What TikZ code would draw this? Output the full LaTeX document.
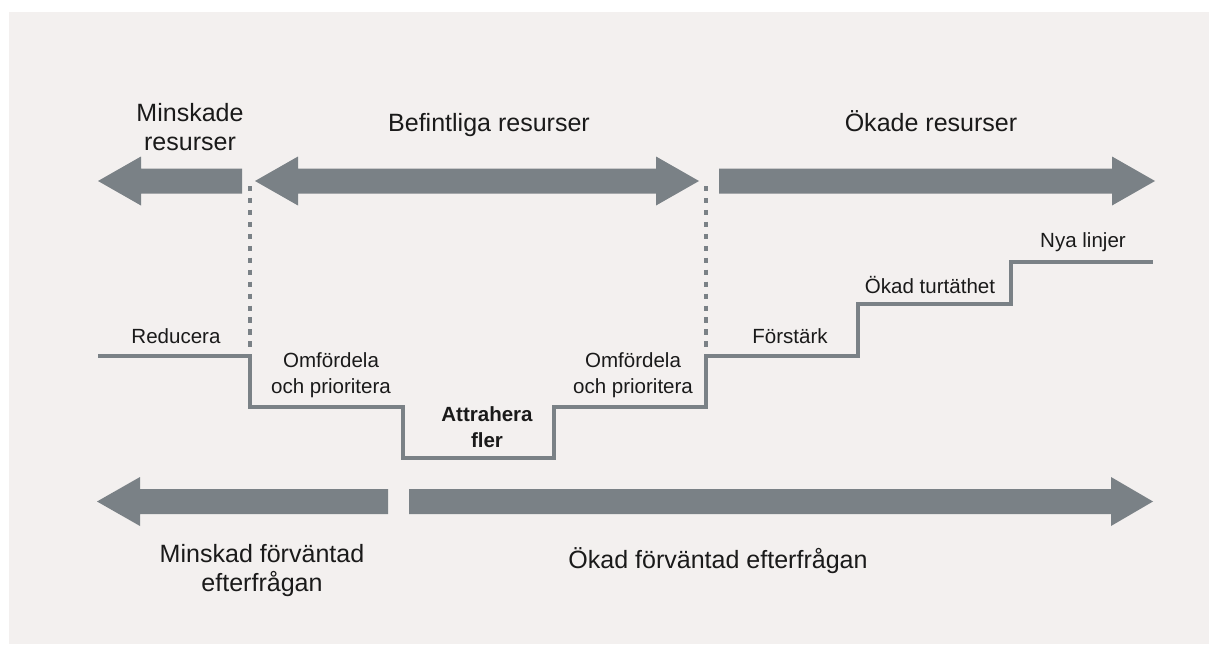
\documentclass[tikz,border=0pt]{standalone}
\usepackage{fontspec}
\setmainfont{Liberation Sans}
\usepackage{tikz}
\usetikzlibrary{calc}
\definecolor{bggray}{HTML}{F3F0EF}
\definecolor{blkgray}{HTML}{7A8186}
\definecolor{txtgray}{HTML}{1A1A1A}

\begin{document}
\begin{tikzpicture}[x=0.025cm, y=-0.025cm,
  blk/.style = {fill=blkgray},
  big/.style = {anchor=base, align=center, text=txtgray, inner sep=0pt, font=\fontsize{17.8}{20.6}\selectfont},
  small/.style = {anchor=base, align=center, text=txtgray, inner sep=0pt, font=\fontsize{14.6}{17.8}\selectfont},
  stair/.style = {draw=blkgray, line width=2.4pt},
  sep/.style = {draw=blkgray, line width=2.4pt, dash pattern=on 3.9pt off 4.6pt}]
  \useasboundingbox (0,0) rectangle (1209,644);
  \fill[white] (0,0) rectangle (1209,644);
  \fill[bggray] (9,12) rectangle (1209,644);

  %top arrows
  \coordinate (tl) at (98,181);
  \fill[blk] (tl) -- ++(43,-24.5) -- ++(0,12) -- ++(101,0) -- ++(0,25) -- ++(-101,0) -- ++(0,12) -- cycle;
  \coordinate (tm) at (255,181);
  \fill[blk] (tm) -- ++(43,-24.5) -- ++(0,12) -- ++(358,0) -- ++(0,-12) -- ++(43,24.5)
    -- ++(-43,24.5) -- ++(0,-12) -- ++(-358,0) -- ++(0,12) -- cycle;
  \coordinate (tr) at (1155,181);
  \fill[blk] (tr) -- ++(-43,-24.5) -- ++(0,12) -- ++(-393,0) -- ++(0,25) -- ++(393,0) -- ++(0,12) -- cycle;
  %annotating top arrows (base = last line)
  \node[big] (minres) at (190,150) {Minskade\\resurser};
  \node[big] (befres) at (489,132) {Befintliga resurser};
  \node[big] (okres) at (931,132) {Ökade resurser};

  %dashed separators
  \coordinate (s1) at (250,186);
  \coordinate (s1_) at (250,348);
  \coordinate (s2) at (706,186);
  \coordinate (s2_) at (706,348);
  \draw[sep] (s1) -- (s1_);
  \draw[sep] (s2) -- (s2_);

  %stairs
  \coordinate (p0) at (98,356);
  \coordinate (p1) at (250,356);
  \coordinate (p2) at (250,407);
  \coordinate (p3) at (403,407);
  \coordinate (p4) at (403,458);
  \coordinate (p5) at (554,458);
  \coordinate (p6) at (554,407);
  \coordinate (p7) at (706,407);
  \coordinate (p8) at (706,356);
  \coordinate (p9) at (858,356);
  \coordinate (p10) at (858,304);
  \coordinate (p11) at (1011,304);
  \coordinate (p12) at (1011,262);
  \coordinate (p13) at (1153,262);
  \draw[stair] (p0) -- (p1) -- (p2) -- (p3) -- (p4) -- (p5) -- (p6) -- (p7)
    -- (p8) -- (p9) -- (p10) -- (p11) -- (p12) -- (p13);
  %annotating stairs
  \node[small] (red) at (176,343) {Reducera};
  \node[small] (omf1) at (331,393) {Omfördela\\och prioritera};
  \node[small, font=\fontsize{14.6}{17.8}\selectfont\bfseries] (attr) at (487,447) {Attrahera\\fler};
  \node[small] (omf2) at (633,393) {Omfördela\\och prioritera};
  \node[small] (forst) at (790,343) {Förstärk};
  \node[small] (turt) at (930,293) {Ökad turtäthet};
  \node[small] (nya) at (1083,247) {Nya linjer};

  %bottom arrows
  \coordinate (bl) at (97,501.5);
  \fill[blk] (bl) -- ++(43,-24.5) -- ++(0,12) -- ++(248,0) -- ++(0,25) -- ++(-248,0) -- ++(0,12) -- cycle;
  \coordinate (br) at (1153,501.5);
  \fill[blk] (br) -- ++(-42,-24.5) -- ++(0,12) -- ++(-702,0) -- ++(0,25) -- ++(702,0) -- ++(0,12) -- cycle;
  %annotating bottom arrows
  \node[big] (minefter) at (262,591) {Minskad förväntad\\efterfrågan};
  \node[big] (okefter) at (718,568) {Ökad förväntad efterfrågan};
\end{tikzpicture}
\end{document}
